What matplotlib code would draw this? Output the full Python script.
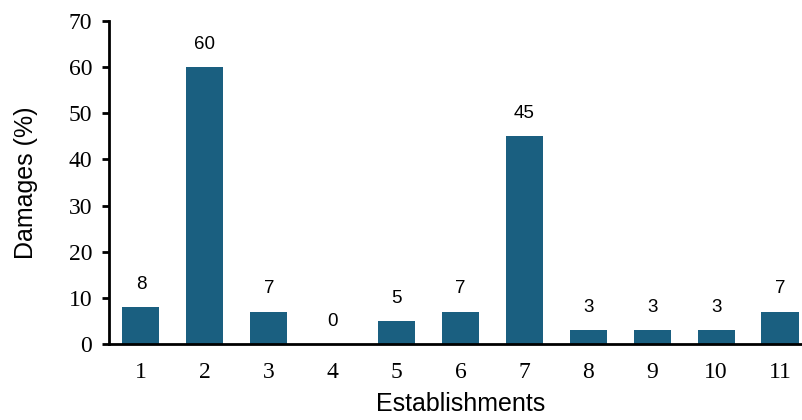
import matplotlib
matplotlib.use("Agg")
import matplotlib.pyplot as plt

establishments = ["1", "2", "3", "4", "5", "6", "7", "8", "9", "10", "11"]
damages = [8, 60, 7, 0, 5, 7, 45, 3, 3, 3, 7]
y_ticks = [0, 10, 20, 30, 40, 50, 60, 70]

fig = plt.figure(figsize=(8.03, 4.20), dpi=100)
ax = fig.add_axes([109/803, (420-344)/420, (803-109)/803, (344-21)/420])

x = list(range(1, len(damages) + 1))
ax.bar(x, damages, width=0.58, color="#1a5f80", zorder=2)

for xi, v in zip(x, damages):
    ax.annotate(str(v), (xi, v), xytext=(0, 16.5), textcoords="offset points",
                ha="center", va="center", fontsize=13.5, family="Liberation Sans")

ax.set_xlim(0.5, 11.36)
ax.set_ylim(0, 70)
ax.set_yticks(y_ticks)
ax.set_xticks(x)
ax.set_xticklabels(establishments)
for lbl in ax.get_xticklabels() + ax.get_yticklabels():
    lbl.set_family("Liberation Serif")
    lbl.set_fontsize(17)

ax.tick_params(axis="x", length=0, pad=13)
ax.tick_params(axis="y", direction="out", length=5, width=2, pad=7)

for s in ["top", "right"]:
    ax.spines[s].set_visible(False)
for s in ["left", "bottom"]:
    ax.spines[s].set_linewidth(2)

ax.set_ylabel("Damages (%)", fontsize=18, family="Liberation Sans", va="center")
ax.set_xlabel("Establishments", fontsize=18, family="Liberation Sans", va="center")
ax.yaxis.set_label_coords(-(109 - 26) / 694, 0.5)
ax.xaxis.set_label_coords((461 - 109) / 694, -(404 - 344) / 323)

fig.savefig("out.png", dpi=100)
